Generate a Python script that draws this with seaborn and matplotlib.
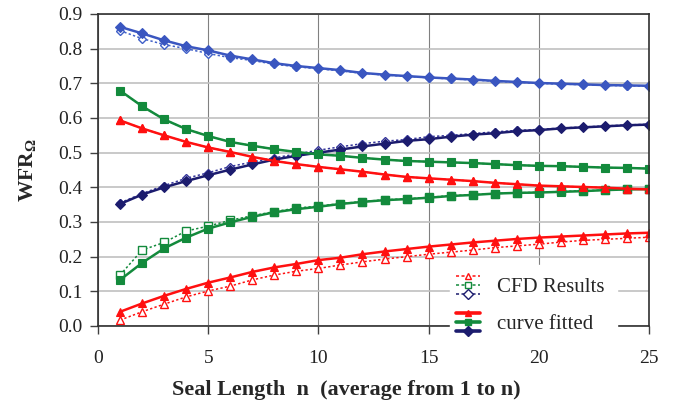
import numpy as np
import matplotlib
matplotlib.use("Agg")
import matplotlib.pyplot as plt
import seaborn as sns
from matplotlib.lines import Line2D
from matplotlib.legend_handler import HandlerBase

# seal length n = 1..25
seal_n = list(range(1, 26))

# curve fitted (solid lines, filled markers)
fit_blue_top = [0.863, 0.844, 0.824, 0.807, 0.795, 0.780, 0.769, 0.758, 0.750, 0.744,
                0.738, 0.730, 0.725, 0.721, 0.717, 0.714, 0.711, 0.707, 0.704, 0.701,
                0.699, 0.697, 0.695, 0.694, 0.693]
fit_green_top = [0.679, 0.634, 0.596, 0.568, 0.548, 0.531, 0.520, 0.510, 0.502, 0.495,
                 0.491, 0.485, 0.480, 0.476, 0.474, 0.472, 0.470, 0.467, 0.464, 0.462,
                 0.461, 0.459, 0.457, 0.456, 0.454]
fit_red_top = [0.593, 0.570, 0.550, 0.531, 0.515, 0.502, 0.488, 0.476, 0.467, 0.459,
               0.452, 0.445, 0.437, 0.430, 0.426, 0.422, 0.418, 0.413, 0.409, 0.405,
               0.403, 0.401, 0.399, 0.396, 0.394]
fit_navy_low = [0.352, 0.379, 0.400, 0.418, 0.435, 0.451, 0.466, 0.480, 0.491, 0.500,
                0.509, 0.518, 0.526, 0.534, 0.539, 0.546, 0.552, 0.556, 0.562, 0.565,
                0.570, 0.573, 0.576, 0.579, 0.581]
fit_green_low = [0.133, 0.182, 0.224, 0.255, 0.281, 0.299, 0.315, 0.328, 0.337, 0.344,
                 0.352, 0.358, 0.363, 0.366, 0.370, 0.375, 0.378, 0.382, 0.384, 0.385,
                 0.387, 0.389, 0.392, 0.394, 0.395]
fit_red_low = [0.041, 0.065, 0.087, 0.107, 0.125, 0.140, 0.156, 0.169, 0.179, 0.190,
               0.197, 0.207, 0.215, 0.222, 0.229, 0.235, 0.241, 0.246, 0.251, 0.255,
               0.258, 0.261, 0.264, 0.267, 0.269]

# CFD results (dotted lines, open markers)
cfd_blue_top = [0.852, 0.829, 0.812, 0.800, 0.786, 0.774, 0.766, 0.755, 0.748, 0.742,
                0.736, 0.729, 0.724, 0.720, 0.716, 0.713, 0.710, 0.706, 0.703, 0.700,
                0.698, 0.696, 0.694, 0.693, 0.692]
cfd_green_top = [0.679, 0.634, 0.596, 0.568, 0.548, 0.531, 0.520, 0.510, 0.502, 0.495,
                 0.491, 0.485, 0.480, 0.476, 0.474, 0.472, 0.470, 0.467, 0.464, 0.462,
                 0.461, 0.459, 0.457, 0.456, 0.454]
cfd_red_top = [0.593, 0.570, 0.550, 0.531, 0.515, 0.502, 0.488, 0.476, 0.467, 0.459,
               0.452, 0.445, 0.437, 0.430, 0.426, 0.422, 0.418, 0.413, 0.409, 0.405,
               0.403, 0.401, 0.399, 0.396, 0.394]
cfd_navy_low = [0.355, 0.382, 0.405, 0.426, 0.442, 0.460, 0.473, 0.485, 0.496, 0.507,
                0.517, 0.526, 0.533, 0.538, 0.546, 0.550, 0.555, 0.560, 0.564, 0.567,
                0.571, 0.574, 0.577, 0.580, 0.582]
cfd_green_low = [0.147, 0.219, 0.241, 0.274, 0.288, 0.305, 0.318, 0.330, 0.340, 0.346,
                 0.353, 0.359, 0.364, 0.367, 0.371, 0.376, 0.379, 0.382, 0.384, 0.386,
                 0.388, 0.390, 0.392, 0.394, 0.395]
cfd_red_low = [0.017, 0.041, 0.063, 0.084, 0.101, 0.115, 0.133, 0.147, 0.158, 0.166,
               0.176, 0.185, 0.193, 0.200, 0.207, 0.213, 0.219, 0.226, 0.231, 0.236,
               0.242, 0.247, 0.250, 0.253, 0.256]

RED = "#ff1010"
GREEN = "#138a3c"
BLUE = "#3a56c0"
NAVY = "#1c1c6e"

sns.set_theme(style="white")
plt.rcParams["font.family"] = ["Liberation Serif", "DejaVu Serif"]
plt.rcParams["mathtext.fontset"] = "custom"
plt.rcParams["mathtext.rm"] = "Liberation Serif"
plt.rcParams["mathtext.bf"] = "Liberation Serif:bold"

fig = plt.figure(figsize=(6.76, 4.08), dpi=100)
ax = fig.add_axes([98/676, 1 - 326/408, 551/676, 312/408])

dots = (0, (1.5, 1.5))
# CFD results first, under the fitted curves
cfd = [(cfd_blue_top, "#4060c8", "D", 4.5), (cfd_navy_low, "#34349a", "D", 4.5),
       (cfd_green_top, GREEN, "s", 5), (cfd_green_low, GREEN, "s", 5.5),
       (cfd_red_top, RED, "^", 5.5), (cfd_red_low, RED, "^", 5.5)]
for vals, c, m, ms in cfd:
    sns.lineplot(x=seal_n, y=vals, ax=ax, color=c, linestyle=dots, linewidth=1.1,
                 marker=m, markersize=ms, markerfacecolor="white",
                 markeredgecolor=c, markeredgewidth=1.0)

fit = [(fit_blue_top, BLUE, "D", 5), (fit_navy_low, NAVY, "D", 5),
       (fit_green_top, GREEN, "s", 5.5), (fit_green_low, GREEN, "s", 5.5),
       (fit_red_top, RED, "^", 6), (fit_red_low, RED, "^", 6)]
for vals, c, m, ms in fit:
    sns.lineplot(x=seal_n, y=vals, ax=ax, color=c, linewidth=1.8,
                 marker=m, markersize=ms, markerfacecolor=c,
                 markeredgecolor=c, markeredgewidth=0.8)

ax.set_xlim(0, 25)
ax.set_ylim(0, 0.9)
ax.set_xticks([0, 5, 10, 15, 20, 25])
ax.set_yticks(np.arange(0, 0.91, 0.1))
ax.set_yticklabels([f"{v:.1f}" for v in np.arange(0, 0.91, 0.1)])

ax.yaxis.grid(True, color="#c0c0c0", linewidth=1.2)
ax.xaxis.grid(True, color="#808080", linewidth=0.8)
ax.set_axisbelow(True)
for s in ax.spines.values():
    s.set_color("#303030")
    s.set_linewidth(1.2)
ax.tick_params(axis="both", direction="out", length=6, width=1, color="#404040",
               labelsize=14, labelcolor="#222222")
ax.tick_params(axis="x", pad=11)
ax.tick_params(axis="y", pad=5)
ax.tick_params(left=True, bottom=True)

ax.set_xlabel("Seal Length  n  (average from 1 to n)", fontsize=16, fontweight="bold")
ax.xaxis.set_label_coords(0.45, -0.205)
ax.xaxis.label.set_va("center")
ax.set_ylabel(r"$\mathbf{WFR}_{\mathbf{\Omega}}$", fontsize=15.5)
ax.yaxis.set_label_coords(-0.127, 0.5)
ax.yaxis.label.set_va("center")


class StackHandler(HandlerBase):
    # draws the three colours of one legend entry on top of each other
    def __init__(self, gap=6.5, **kw):
        super().__init__(**kw)
        self.gap = gap

    def create_artists(self, legend, orig_handle, xdescent, ydescent,
                       width, height, fontsize, trans):
        out = []
        x0, x1 = -xdescent, -xdescent + width
        yc = -ydescent + height / 2
        for i, h in enumerate(orig_handle):
            y = yc + (1 - i) * self.gap
            ln = Line2D([x0, x1], [y, y])
            ln.update_from(h)
            ln.set_marker("")
            mk = Line2D([(x0 + x1) / 2], [y])
            mk.update_from(h)
            mk.set_linestyle("None")
            for a in (ln, mk):
                a.set_transform(trans)
                out.append(a)
        return out


cfd_handles = tuple(Line2D([], [], color=c, linestyle=(0, (2, 1.6)), linewidth=1.1,
                           marker=m, markersize=5, markerfacecolor="white",
                           markeredgecolor=c, markeredgewidth=1.0)
                    for c, m in [(RED, "^"), (GREEN, "s"), (NAVY, "D")])
fit_handles = tuple(Line2D([], [], color=c, linewidth=2.6, marker=m, markersize=5,
                           markerfacecolor=c, markeredgecolor=c)
                    for c, m in [(RED, "^"), (GREEN, "s"), (NAVY, "D")])

leg = ax.legend([cfd_handles, fit_handles], ["CFD Results", "curve fitted"],
                handler_map={tuple: StackHandler()}, loc="upper left",
                bbox_to_anchor=(0.6384, -0.1054, 0.3035, 0.3), mode="expand",
                borderaxespad=0, borderpad=0.3,
                fontsize=15, handlelength=1.15, handleheight=1.6,
                handletextpad=0.8, labelspacing=0.49, frameon=True,
                fancybox=False, framealpha=1, facecolor="white", edgecolor="white")
leg.set_zorder(5)

fig.savefig("out.png", dpi=100)
